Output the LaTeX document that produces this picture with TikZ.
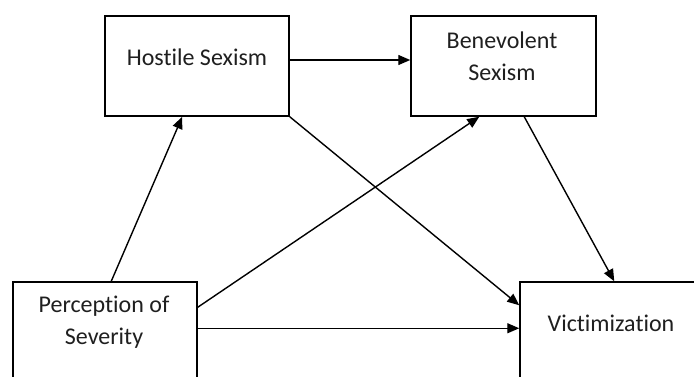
\documentclass[tikz,border=0pt]{standalone}
\usepackage{fontspec}
\setmainfont{Carlito}[Ligatures={NoCommon,NoContextual}]
\usetikzlibrary{calc,arrows.meta}
\begin{document}
\begin{tikzpicture}[x=1pt,y=-1pt,
  box/.style={draw=black,line width=1.5pt,rectangle,inner sep=0pt,fill=white},
  lbl/.style={font=\fontsize{24}{32}\selectfont,text=black!88,inner sep=0pt,align=center},
  arr/.style={draw=black,line width=1.4pt,-{Triangle[length=12pt,width=10pt]}}]
\useasboundingbox (0,0) rectangle (694,376);
\clip (0,0) rectangle (694,376);
\node[box,minimum width=184pt,minimum height=100pt] (hs) at (197,66) {};
\node[box,minimum width=185pt,minimum height=100pt] (bs) at (503.5,66) {};
\node[box,minimum width=184pt,minimum height=140pt] (ps) at (105,352) {};
\node[box,minimum width=200pt,minimum height=140pt] (vi) at (620,352) {};
\node[lbl] (hst) at (197,57) {Hostile Sexism};
\node[lbl] (bst) at (502,56) {Benevolent\\Sexism};
\node[lbl] (pst) at (104,322) {Perception of\\Severity};
\node[lbl] (vit) at (611,323) {Victimization};
\draw[arr] ($(ps.north west)+(99,0)$) -- ($(hs.south west)+(78,0)$);
\draw[arr] ($(hs.east)+(0,-6)$) -- ($(bs.west)+(0,-6)$);
\draw[arr] ($(ps.north east)+(0,26)$) -- ($(bs.south west)+(69,0)$);
\draw[arr] (hs.south east) -- ($(vi.north west)+(0,24)$);
\draw[arr] ($(bs.south west)+(114,0)$) -- ($(vi.north west)+(95,0)$);
\draw[arr] ($(ps.north east)+(0,47)$) -- ($(vi.north west)+(0,47)$);
\end{tikzpicture}
\end{document}
